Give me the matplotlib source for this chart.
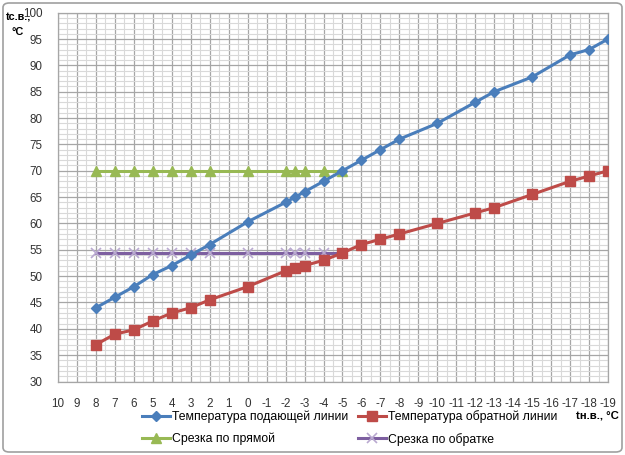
import matplotlib
matplotlib.use("Agg")
import matplotlib.pyplot as plt
from matplotlib.patches import FancyBboxPatch
from matplotlib.ticker import MultipleLocator

plt.rcParams['font.family'] = ['Liberation Sans', 'DejaVu Sans']
plt.rcParams['axes.unicode_minus'] = False

# outside air temperature, degC
t_out = [8, 7, 6, 5, 4, 3, 2, 0, -2, -2.5, -3, -4, -5, -6, -7, -8, -10, -12, -13, -15, -17, -18, -19]
# supply / return line temperature
t_supply = [44, 46, 48, 50.3, 52, 54, 56, 60.3, 64, 65, 66, 68, 70, 72, 74, 76, 79, 83, 85, 87.8, 92, 93, 95]
t_return = [37, 39, 39.8, 41.5, 43, 44, 45.5, 48, 51, 51.6, 52, 53, 54.4, 56, 57, 58, 60, 62, 63, 65.5, 68, 69, 70]
# cut-off lines
t_cut = [8, 7, 6, 5, 4, 3, 2, 0, -2, -2.5, -3, -4, -5]
cut_supply = [70] * len(t_cut)
cut_return = [54.4] * len(t_cut)

x_ticks = list(range(10, -20, -1))

fig = plt.figure(figsize=(6.25, 4.55), dpi=100)
ax = fig.add_axes([58 / 625, 1 - 381.5 / 455, 550 / 625, (381.5 - 12.7) / 455])

ax.plot(t_out, t_supply, color='#4A7EBB', lw=2.2, marker='D', ms=5.5,
        label='Температура подающей линии', zorder=4)
ax.plot(t_out, t_return, color='#BE4B48', lw=2.2, marker='s', ms=7,
        label='Температура обратной линии', zorder=4)
ax.plot(t_cut, cut_supply, color='#98B954', lw=2.2, marker='^', ms=7,
        label='Срезка по прямой', zorder=3)
ax.plot(t_cut, cut_return, color='#7D5FA0', lw=2.2, marker='x', ms=7,
        mec='#B9A9D0', mew=1.2, label='Срезка по обратке', zorder=3)

ax.set_xlim(10, -19)
ax.set_ylim(30, 100)
ax.set_xticks(x_ticks)
ax.set_xticklabels([str(v) for v in x_ticks])
ax.xaxis.set_minor_locator(MultipleLocator(0.5))
ax.yaxis.set_major_locator(MultipleLocator(5))
ax.yaxis.set_minor_locator(MultipleLocator(1))
ax.grid(which='major', color='#A6A6A6', lw=0.9)
ax.grid(which='minor', color='#D9D9D9', lw=0.8)
ax.set_axisbelow(True)
ax.tick_params(which='both', length=0, labelsize=8.4, colors='#333333')
ax.tick_params(axis='x', pad=12)
ax.tick_params(axis='y', pad=11)
for s in ax.spines.values():
    s.set_color('#A6A6A6')
    s.set_linewidth(0.9)

fig.text(6 / 625, 1 - 18 / 455, 'tс.в.,', fontsize=7.8, fontweight='bold', va='center')
fig.text(12 / 625, 1 - 32 / 455, '°С', fontsize=7.8, fontweight='bold', va='center')
fig.text(576 / 625, 1 - 415 / 455, 'tн.в., °С', fontsize=8.2, fontweight='bold', va='center')

h, l = ax.get_legend_handles_labels()
order = [0, 2, 1, 3]
fig.legend([h[i] for i in order], [l[i] for i in order], ncol=2, frameon=False,
           loc='upper left', bbox_to_anchor=(142 / 625, 1 - 410 / 455),
           fontsize=8.8, handlelength=2.3, handletextpad=0.15, columnspacing=0.8,
           labelspacing=0.8, borderaxespad=0, borderpad=0)

border = FancyBboxPatch((3 / 625, 3 / 455), 619 / 625, 449 / 455,
                        boxstyle='round,pad=0,rounding_size=0.01',
                        transform=fig.transFigure, fill=False,
                        ec='#A0A0A0', lw=1.2)
fig.patches.append(border)

fig.savefig('out.png', dpi=100)
